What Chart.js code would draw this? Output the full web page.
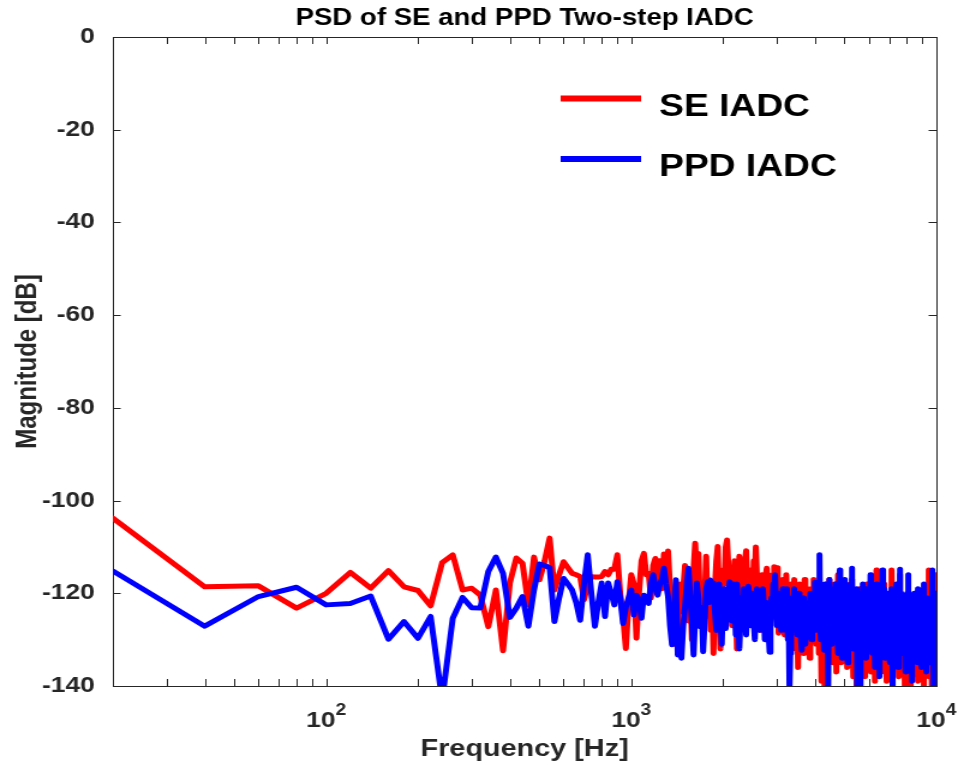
<!DOCTYPE html>
<html>
<head>
<meta charset="utf-8">
<title>PSD of SE and PPD Two-step IADC</title>
<script src="https://cdn.jsdelivr.net/npm/chart.js@4.4.1/dist/chart.umd.min.js"></script>
<style>
  html, body { margin: 0; padding: 0; background: #fff; overflow: hidden; }
  /* the reference figure is stretched sideways, so the canvas is too */
  #wrap { width: 798px; height: 770px; transform: scaleX(1.2005); transform-origin: 0 0; }
</style>
</head>
<body>
<div id="wrap"><canvas id="psd" width="798" height="770"></canvas></div>
<script>
// FFT bins every 20 Hz, from 20 Hz to 10 kHz
const binStepHz = 20;

// SE IADC, dB
const seDb = [
  -103.8, -118.6, -118.4, -123.2, -120.0, -115.5, -118.9, -115.1, -118.6, -119.4,
  -122.7, -113.4, -111.7, -119.3, -118.9, -120.4, -127.2, -119.3, -132.4, -117.8,
  -112.4, -113.5, -122.5, -112.2, -117.1, -113.0, -108.1, -119.3, -116.0, -113.2,
  -114.5, -115.7, -116.0, -116.4, -121.4, -118.0, -116.4, -116.5, -116.5, -116.4,
  -115.3, -116.0, -114.8, -114.8, -111.7, -120.0, -125.0, -131.9, -122.0, -116.0,
  -118, -129.7, -120, -113, -111.4, -116, -115.7, -121, -114, -112.5,
  -118, -113, -119, -111.5, -116, -110.9, -119, -126, -131, -122,
  -128, -118, -124, -119, -114, -121, -126, -118, -130, -115,
  -109.2, -116, -111.4, -123, -118, -130, -121, -112, -125, -117,
  -128, -120, -133, -119, -113, -109.9, -122, -132, -118, -115,
  -118, -110, -108.5, -114, -121, -116, -127, -118, -113, -122,
  -132, -124, -112, -119, -126, -117, -121, -113, -110.8, -118,
  -121, -126, -115, -119, -124, -113, -117, -110, -116, -125,
  -124.8, -119, -128, -116, -121, -118, -126, -116, -114.6, -121,
  -117, -126, -119, -123, -116, -120, -114.3, -124, -119, -114.5,
  -121, -128.6, -122, -118, -126, -120, -117, -124, -129, -121,
  -116, -123, -127, -119, -131, -124, -118, -126, -121, -129,
  -117, -125, -132, -120, -127, -136, -122, -118, -129, -124,
  -120, -127, -133, -121, -117, -128, -124, -131, -119, -126,
  -122, -134, -125, -119, -128, -121, -130, -117, -126, -123,
  -124, -131, -119, -127, -122, -133, -126, -118, -129, -139,
  -128, -121, -134, -125, -141, -130, -123, -119, -127, -132,
  -122, -129, -117, -126, -133, -120, -128, -124, -135, -121,
  -127, -118, -131, -125, -137, -123, -129, -116, -126, -132,
  -124, -130, -121, -135, -127, -119, -133, -125, -128, -122,
  -131, -126, -118, -129, -136, -124, -120, -132, -127, -123,
  -129, -134, -121, -126, -117, -131, -138, -125, -122, -130,
  -127, -133, -124, -141, -128, -120, -135, -126, -131, -123,
  -119, -130, -136, -125, -128, -122, -134, -127, -121, -132,
  -126, -138, -129, -123, -131, -118, -127, -135, -124, -130,
  -122, -128, -133, -126, -120, -137, -129, -125, -131, -117,
  -128, -134, -124, -130, -139, -126, -121, -115, -127, -135,
  -125, -119, -131, -128, -136, -123, -129, -133, -126, -121,
  -130, -137, -127, -122, -134, -129, -118, -131, -126, -135,
  -124, -132, -128, -139, -125, -121, -133, -127, -130, -123,
  -129, -135, -126, -120, -131, -128, -115, -124, -132, -127,
  -122, -130, -134, -126, -119, -133, -128, -136, -125, -131,
  -127, -121, -135, -129, -132, -124, -138, -130, -126, -116,
  -131, -128, -134, -123, -129, -136, -127, -132, -125, -130,
  -135, -126, -141, -129, -122, -133, -128, -139, -124, -131,
  -127, -134, -121, -130, -137, -126, -132, -128, -135, -141,
  -129, -124, -133, -127, -138, -131, -122, -135, -128, -130,
  -125, -132, -136, -123, -129, -134, -127, -120, -131, -137,
  -128, -133, -126, -139, -130, -124, -135, -129, -132, -121,
  -134, -127, -131, -136, -125, -130, -138, -128, -123, -133,
  -129, -135, -126, -132, -140, -127, -131, -124, -136, -130,
  -126, -133, -129, -137, -122, -131, -135, -128, -134, -127,
  -115, -138, -125, -130, -134, -119, -129, -136, -131, -127,
  -135, -128, -141, -132, -126, -133, -129, -137, -124, -131,
  -128, -134, -130, -125, -139, -131, -127, -116, -133, -129
];

// PPD IADC, dB
const ppdDb = [
  -115.2, -127.1, -120.7, -118.7, -122.5, -122.2, -120.6, -129.9, -126.1, -129.7,
  -125.0, -143.0, -125.4, -120.9, -123.1, -123.2, -115.3, -112.2, -115.7, -125.2,
  -123.2, -120.7, -127.1, -119.3, -113.7, -114.0, -114.5, -126.1, -121.0, -116.8,
  -118.0, -119.3, -122.0, -125.8, -118.0, -111.7, -120.0, -127.1, -122.0, -117.8,
  -125.0, -117.8, -120.0, -122.5, -117.5, -121.0, -126.5, -123.0, -121.0, -119.3,
  -124.7, -120.4, -121.5, -125.4, -120.4, -121, -122.2, -118, -116, -119,
  -120.4, -118, -117, -114.6, -118, -120.7, -127, -131.1, -124, -117.1,
  -133.3, -128, -134, -127, -122.9, -118, -114.6, -120.7, -126, -133.3,
  -125, -117.8, -121, -127.2, -123, -132.6, -126, -119, -117.5, -122,
  -117.2, -121, -117.8, -124, -128, -120, -118, -125, -131, -121,
  -119, -127.6, -124, -120, -117.5, -122, -126, -118, -121, -129,
  -118, -124, -132, -126, -121, -127, -119, -123, -129, -122,
  -118.5, -121, -127, -124, -120, -126, -130, -122, -119, -125,
  -124.8, -128, -121, -126, -119, -123, -130, -127, -122, -125,
  -129, -132.7, -126, -121, -124, -118, -120, -116, -122, -127,
  -123, -120, -125, -123, -128, -122, -119, -126, -121, -128,
  -124, -119, -130, -125, -141, -133, -125, -121, -127, -123,
  -119, -126, -128, -122, -129, -124, -120, -127, -125, -130,
  -132.3, -126, -121, -128, -124, -131, -127, -122, -125, -129,
  -123, -127, -120, -126, -130, -124, -121, -128, -125, -117.6,
  -122, -128, -124, -119, -126, -121, -111.7, -127, -130, -124,
  -129, -120, -125, -132.3, -123, -118, -127, -121, -130, -126,
  -141, -124, -117, -128, -122, -131, -119, -126, -123, -129,
  -121, -127, -124, -118, -130, -122, -126, -133, -120, -128,
  -115, -125, -129, -122, -134, -119, -127, -123, -130, -117,
  -126, -131, -121, -128, -124, -135, -120, -127, -129, -122,
  -125, -118, -130, -114.6, -127, -123, -132, -121, -128, -124,
  -131, -122, -127, -119, -141, -125, -129, -121, -133, -126,
  -120, -141, -124, -129, -122, -127, -118, -131, -125, -128,
  -123, -130, -126, -119, -134, -124, -128, -121, -132, -125,
  -127, -122, -129, -116, -131, -125, -120, -133, -126, -128,
  -121, -130, -124, -136, -127, -122, -129, -118, -125, -131,
  -126, -120, -132, -124, -128, -138, -123, -127, -121, -129,
  -124, -131, -115, -127, -122, -130, -126, -119, -134, -125,
  -128, -121, -127, -133, -124, -129, -120, -126, -131, -123,
  -127, -135, -122, -128, -125, -119, -130, -124, -129, -141,
  -123, -129, -126, -132, -120, -127, -124, -130, -118, -126,
  -130, -125, -128, -122, -136, -126, -121, -129, -127, -114.8,
  -124, -131, -126, -120, -128, -133, -125, -122, -129, -127,
  -121, -128, -124, -131, -126, -137, -123, -129, -125, -120,
  -127, -132, -125, -116, -129, -124, -130, -126, -134, -123,
  -128, -122, -131, -127, -124, -139, -126, -121, -129, -125,
  -131, -126, -120, -128, -133, -124, -127, -122, -130, -126,
  -123, -129, -135, -125, -119, -128, -126, -132, -124, -127,
  -130, -125, -121, -133, -127, -124, -129, -136, -122, -128,
  -126, -131, -124, -118, -129, -127, -134, -123, -128, -125,
  -129, -123, -130, -126, -137, -124, -128, -121, -131, -127,
  -124, -132, -127, -122, -129, -135, -125, -130, -123, -128,
  -127, -121, -133, -126, -115, -129, -124, -131, -128, -141,
  -125, -130, -122, -128, -134, -126, -120, -129, -127, -131
];

const freqHz = seDb.map((_, i) => (i + 1) * binStepHz);

// axis ticks
const xTicks = [20, 30, 40, 50, 60, 70, 80, 90,
  100, 200, 300, 400, 500, 600, 700, 800, 900,
  1000, 2000, 3000, 4000, 5000, 6000, 7000, 8000, 9000, 10000];
const xTickExp = { 100: '2', 1000: '3', 10000: '4' };   // labels 10^n
const yTicks = [-140, -120, -100, -80, -60, -40, -20, 0];

const chartTitle = 'PSD of SE and PPD Two-step IADC';

const FONT = "'Liberation Sans', Arial, Helvetica, sans-serif";
const AXIS_COLOR = '#262626';

Chart.defaults.font.family = FONT;
Chart.defaults.font.weight = 'bold';

function toPoints(vals) {
  return vals.map((v, i) => ({ x: freqHz[i], y: v }));
}

// MATLAB style box with inward ticks, 10^n labels, title and legend
const matlabAxes = {
  id: 'matlabAxes',
  beforeDatasetsDraw(chart) {
    const { ctx, chartArea: a, scales: { x, y } } = chart;
    ctx.save();
    ctx.strokeStyle = AXIS_COLOR;
    ctx.lineWidth = 1;
    ctx.beginPath();
    x.ticks.forEach(t => {
      const px = Math.round(x.getPixelForValue(t.value)) + 0.5;
      ctx.moveTo(px, a.bottom); ctx.lineTo(px, a.bottom - 7);
      ctx.moveTo(px, a.top); ctx.lineTo(px, a.top + 7);
    });
    y.ticks.forEach(t => {
      const py = Math.round(y.getPixelForValue(t.value)) + 0.5;
      ctx.moveTo(a.left, py); ctx.lineTo(a.left + 6.5, py);
      ctx.moveTo(a.right, py); ctx.lineTo(a.right - 6.5, py);
    });
    ctx.stroke();
    ctx.strokeRect(Math.round(a.left) + 0.5, Math.round(a.top) + 0.5,
                   Math.round(a.width), Math.round(a.height));

    // x tick labels: 10 with a raised exponent
    ctx.fillStyle = AXIS_COLOR;
    ctx.textBaseline = 'alphabetic';
    ctx.textAlign = 'left';
    Object.keys(xTickExp).forEach(k => {
      const px = x.getPixelForValue(Number(k));
      ctx.font = 'bold 22px ' + FONT;
      const wBase = ctx.measureText('10').width;
      ctx.font = 'bold 16px ' + FONT;
      const wExp = ctx.measureText(xTickExp[k]).width;
      const x0 = px - (wBase + wExp) / 2;
      ctx.font = 'bold 22px ' + FONT;
      ctx.fillText('10', x0, a.bottom + 41);
      ctx.font = 'bold 16px ' + FONT;
      ctx.fillText(xTickExp[k], x0 + wBase, a.bottom + 29);
    });
    ctx.restore();
  },
  afterDraw(chart) {
    const { ctx, chartArea: a } = chart;
    ctx.save();
    ctx.fillStyle = '#000';
    ctx.textBaseline = 'alphabetic';
    ctx.textAlign = 'center';
    ctx.font = 'bold 23px ' + FONT;
    ctx.fillText(chartTitle, (a.left + a.right) / 2, 24.5);

    const rows = [98.5, 159];
    ctx.textAlign = 'left';
    ctx.font = 'bold 31px ' + FONT;
    chart.data.datasets.forEach((ds, i) => {
      const yy = rows[i];
      ctx.strokeStyle = ds.borderColor;
      ctx.lineWidth = 6;
      ctx.beginPath();
      ctx.moveTo(467, yy);
      ctx.lineTo(534, yy);
      ctx.stroke();
      ctx.fillText(ds.label, 549, yy + 17);
    });
    ctx.restore();
  }
};

new Chart(document.getElementById('psd'), {
  type: 'line',
  data: {
    datasets: [
      { label: 'SE IADC', data: toPoints(seDb), borderColor: '#ff0000', order: 1 },
      { label: 'PPD IADC', data: toPoints(ppdDb), borderColor: '#0000ff', order: 0 }
    ]
  },
  options: {
    responsive: false,
    animation: false,
    events: [],
    layout: { padding: { top: 37, right: 18, bottom: 0, left: 0 } },
    elements: {
      point: { radius: 0 },
      line: { borderWidth: 5, tension: 0, borderJoinStyle: 'round', borderCapStyle: 'round' }
    },
    plugins: {
      legend: { display: false },
      tooltip: { enabled: false },
      title: { display: false }
    },
    scales: {
      x: {
        type: 'logarithmic',
        min: 20,
        max: 10000,
        grid: { display: false },
        border: { display: false },
        afterBuildTicks: s => { s.ticks = xTicks.map(v => ({ value: v })); },
        afterFit: s => { s.height = 84; s.paddingLeft = 0; s.paddingRight = 0; },
        ticks: { display: false },
        title: {
          display: true,
          text: 'Frequency [Hz]',
          color: AXIS_COLOR,
          font: { size: 24, weight: 'bold' },
          padding: { top: 0, bottom: 6 }
        }
      },
      y: {
        min: -140,
        max: 0,
        grid: { display: false },
        border: { display: false },
        afterBuildTicks: s => { s.ticks = yTicks.map(v => ({ value: v })); },
        afterFit: s => { s.width = 94; s.paddingTop = 0; s.paddingBottom = 0; },
        ticks: {
          color: AXIS_COLOR,
          font: { size: 22, weight: 'bold' },
          padding: 7
        },
        title: {
          display: true,
          text: 'Magnitude [dB]',
          color: AXIS_COLOR,
          font: { size: 24, weight: 'bold' },
          padding: { top: 9, bottom: 0 }
        }
      }
    }
  },
  plugins: [matlabAxes]
});
</script>
</body>
</html>
